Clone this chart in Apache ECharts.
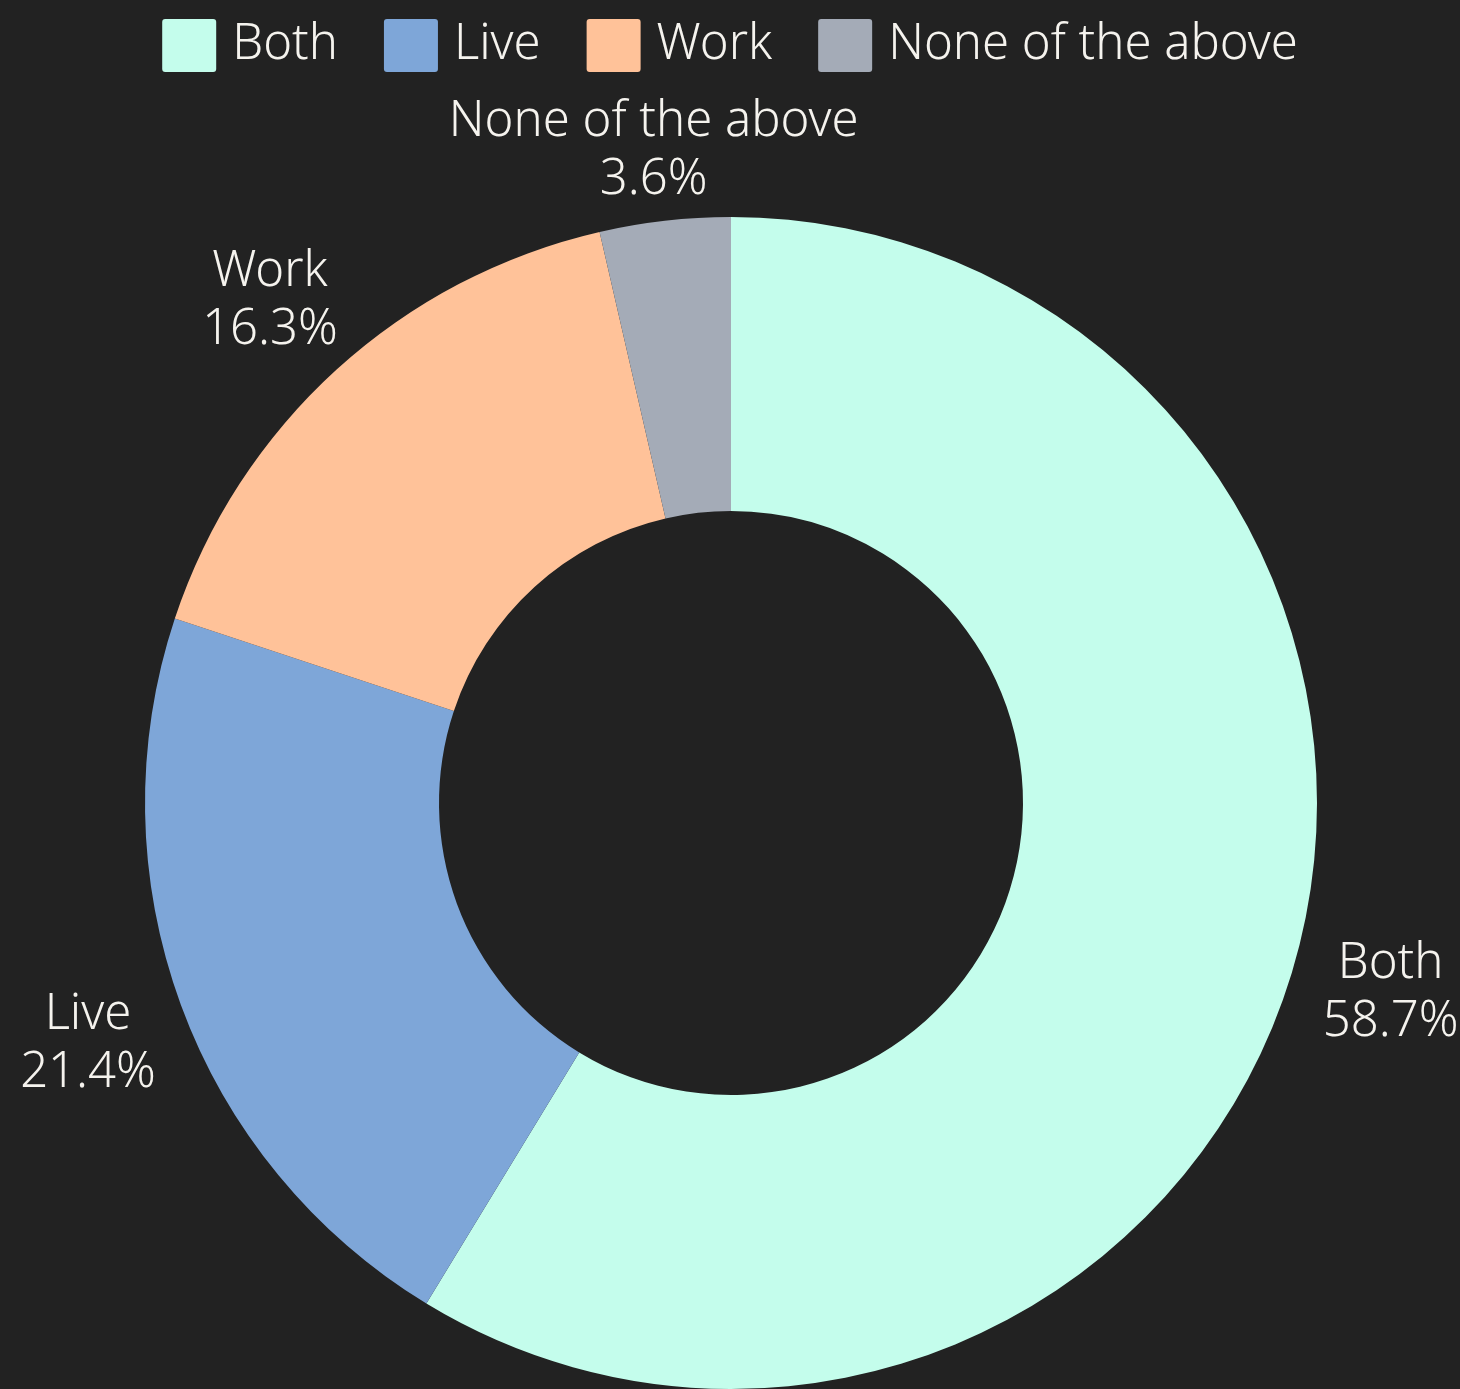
<!DOCTYPE html>
<html>
<head>
<meta charset="utf-8">
<style>
  html, body { margin: 0; padding: 0; background: #222222; }
  #chart { width: 1460px; height: 1389px; }
</style>
<script src="https://cdn.jsdelivr.net/npm/echarts@6/dist/echarts.min.js"></script>
</head>
<body>
<div id="chart"></div>
<script>
// Share of respondents by where they live / work
const categories = ['Both', 'Live', 'Work', 'None of the above'];
const shares = [58.7, 21.4, 16.3, 3.6];
const colors = ['#c4fdec', '#7ea6d8', '#ffc299', '#a4abb7'];

const FONT = '"Noto Sans", "Open Sans", sans-serif';
const TEXT = '#f5f3ee';
const CENTER = [731, 803];

const sliceData = categories.map((name, i) => ({
  name,
  value: shares[i],
  itemStyle: { color: colors[i] }
}));

// Transparent outer ring used only to carry the centred two-line labels
const labelData = categories.map((name, i) => ({
  name,
  value: shares[i],
  label: { offset: [0, i === categories.length - 1 ? 29 : 5] }
}));

const chart = echarts.init(document.getElementById('chart'), null, { renderer: 'canvas' });
chart.setOption({
  backgroundColor: '#222222',
  animation: false,
  legend: {
    top: 14,
    left: 'center',
    itemWidth: 54,
    itemHeight: 53,
    itemGap: 46,
    icon: 'path://M3,0H51Q54,0 54,3V50Q54,53 51,53H3Q0,53 0,50V3Q0,0 3,0Z',
    data: categories,
    textStyle: {
      color: TEXT,
      fontFamily: FONT,
      fontWeight: 300,
      fontSize: 49,
      padding: [0, 0, 0, 11]
    }
  },
  series: [
    {
      type: 'pie',
      center: CENTER,
      radius: [292, 586],
      startAngle: 90,
      clockwise: true,
      silent: true,
      data: sliceData,
      label: { show: false },
      labelLine: { show: false },
      itemStyle: { borderWidth: 0 }
    },
    {
      type: 'pie',
      center: CENTER,
      radius: [640, 724],
      startAngle: 90,
      clockwise: true,
      silent: true,
      data: labelData,
      itemStyle: { color: 'rgba(0,0,0,0)', borderWidth: 0 },
      labelLine: { show: false },
      label: {
        show: true,
        position: 'inside',
        color: TEXT,
        fontFamily: FONT,
        fontWeight: 300,
        fontSize: 49,
        lineHeight: 58,
        align: 'center',
        formatter: p => p.name + '\n' + p.value.toFixed(1) + '%'
      }
    }
  ]
});
</script>
</body>
</html>
